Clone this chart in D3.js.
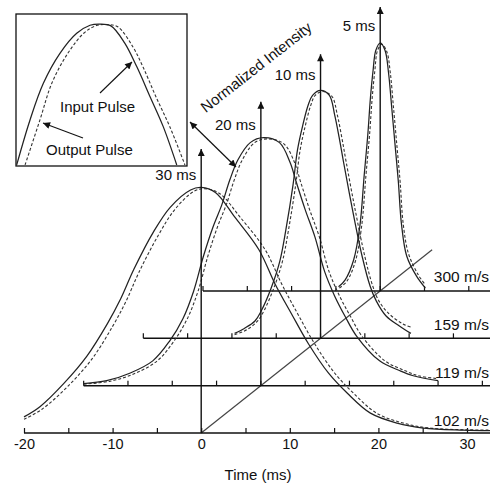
<!DOCTYPE html>
<html>
<head>
<meta charset="utf-8">
<script src="https://cdn.jsdelivr.net/npm/d3@7"></script>
<style>
body{margin:0;overflow:hidden;background:#fff}
text{font-family:"Liberation Sans",Arial,sans-serif;fill:#111}
</style>
</head>
<body>
<div class="canvas"></div>
<script>
// layers, front to back
const velocities=['102 m/s','119 m/s','159 m/s','300 m/s'];
const widths=['30 ms','20 ms','10 ms','5 ms'];
const timeTicks=[-20,-15,-10,-5,0,5,10,15,20,25,30];

// [time ms, normalized intensity]
const pulse30In=[[-20,0.065],[-18.2,0.106],[-15.5,0.2],[-12.9,0.31],[-10.6,0.44],[-9.1,0.54],[-7.6,0.66],[-5.4,0.81],[-3.5,0.91],[-1.2,0.98],[0,0.99],[1.6,0.97],[3.8,0.87],[6.5,0.74],[8.35,0.6],[10.2,0.48],[12.1,0.36],[14.4,0.24],[16.5,0.16],[19.1,0.08],[22.1,0.04],[25.1,0.02],[29.6,0.012],[32.6,0.01]];
const pulse30Out=[[-20,0.055],[-18,0.095],[-15,0.19],[-12.3,0.3],[-10,0.43],[-8.5,0.53],[-7,0.65],[-4.8,0.8],[-3,0.9],[-0.8,0.975],[0.4,0.985],[2.1,0.965],[4.4,0.87],[7.2,0.74],[9.1,0.6],[10.9,0.48],[12.8,0.36],[15.1,0.24],[17.2,0.16],[19.8,0.08],[22.8,0.04],[25.8,0.02],[30,0.013],[32.6,0.012]];
const pulse20In=[[-20,0.008],[-17.4,0.02],[-14.8,0.05],[-12.2,0.1],[-10.3,0.18],[-8.8,0.27],[-7.6,0.38],[-6.5,0.52],[-5.4,0.64],[-4.4,0.73],[-3.5,0.83],[-2.6,0.91],[-1.2,0.98],[0.3,1],[2.1,0.98],[3.3,0.9],[4,0.82],[5,0.71],[6.1,0.6],[7.2,0.46],[8.35,0.36],[9.5,0.28],[10.8,0.2],[13.4,0.1],[15.7,0.06],[17.2,0.04],[20,0.02]];
const pulse20Out=[[-20,0.006],[-17,0.018],[-14.3,0.048],[-11.7,0.1],[-9.8,0.18],[-8.3,0.27],[-7.1,0.38],[-6,0.52],[-4.9,0.64],[-3.9,0.73],[-3,0.83],[-2.1,0.91],[-0.7,0.98],[0.8,0.995],[2.6,0.975],[3.8,0.9],[4.5,0.82],[5.5,0.71],[6.6,0.6],[7.7,0.46],[8.9,0.36],[10.1,0.28],[11.4,0.2],[14,0.1],[16.3,0.06],[17.8,0.04],[20,0.028]];
const pulse10In=[[-9.7,0.02],[-8.6,0.04],[-7.4,0.07],[-6.7,0.11],[-5.6,0.2],[-4.6,0.31],[-3.9,0.44],[-3.1,0.62],[-2.6,0.76],[-2,0.86],[-1.4,0.94],[-0.9,0.98],[0,1],[1,0.98],[1.6,0.9],[2.1,0.81],[2.6,0.71],[3.6,0.52],[4.7,0.33],[5.6,0.21],[6.3,0.15],[7.4,0.09],[8.9,0.05],[10.2,0.02]];
const pulse10Out=[[-9.7,0.015],[-8.3,0.035],[-7.1,0.07],[-6.4,0.11],[-5.3,0.2],[-4.3,0.31],[-3.6,0.44],[-2.8,0.62],[-2.3,0.76],[-1.7,0.86],[-1.1,0.94],[-0.6,0.98],[0.3,0.995],[1.3,0.975],[1.9,0.9],[2.4,0.81],[2.9,0.71],[3.9,0.52],[5,0.33],[5.9,0.21],[6.6,0.15],[7.7,0.1],[9.2,0.06],[10.2,0.045]];
const pulse5In=[[-4.7,0.017],[-3.95,0.045],[-3,0.125],[-2.3,0.26],[-1.8,0.47],[-1.4,0.63],[-1.1,0.78],[-0.8,0.89],[-0.5,0.97],[0,1],[0.55,0.97],[0.94,0.88],[1.3,0.74],[1.7,0.58],[2.05,0.44],[2.4,0.27],[3,0.14],[4.1,0.06],[5.1,0.012]];
const pulse5Out=[[-4.6,0.012],[-3.75,0.04],[-2.8,0.12],[-2.1,0.26],[-1.6,0.47],[-1.2,0.63],[-0.9,0.78],[-0.6,0.89],[-0.3,0.97],[0.2,0.995],[0.75,0.965],[1.14,0.88],[1.5,0.74],[1.9,0.58],[2.25,0.44],[2.6,0.27],[3.2,0.15],[4.3,0.065],[5.1,0.025]];

// inset: zoom on the peak, both axes in percent of the box
const insetIn=[[0.4,0.7],[8.2,30.3],[16,54.4],[25.7,74.1],[35.5,87.3],[43.3,92.6],[49,93.4],[55.5,92.2],[63.5,81],[70.6,65.4],[78.4,45.6],[86.1,25.9],[94,0.7]];
const insetOut=[[5.3,0.7],[14,30.3],[21,54.6],[30.4,74.3],[39.8,87.5],[47,92.4],[53.3,93],[59.5,91.6],[68.4,78.3],[74.3,65.1],[81.9,45.4],[90,25.7],[98.8,0.7]];

const inputs=[pulse30In,pulse20In,pulse10In,pulse5In];
const outputs=[pulse30Out,pulse20Out,pulse10Out,pulse5Out];

const svg=d3.select('.canvas').append('svg')
    .attr('width',490)
    .attr('height',486);

const defs=svg.append('defs');
defs.append('marker')
    .attr('id','head')
    .attr('viewBox','0 0 10 10')
    .attr('refX',10).attr('refY',5)
    .attr('markerUnits','userSpaceOnUse')
    .attr('markerWidth',10).attr('markerHeight',7)
    .attr('orient','auto-start-reverse')
  .append('path')
    .attr('d','M0,0L10,5L0,10Z')
    .attr('fill','#111');

// time, intensity, and depth (one step per velocity)
const x=d3.scaleLinear().domain([-20,30]).range([24,467]);
const h=d3.scaleLinear().domain([0,1]).range([0,248]);
const dx=d3.scaleLinear().domain([0,3]).range([0,179]);
const base=d3.scaleLinear().domain([0,3]).range([433,291]);

const px=(t,k)=>x(t)+dx(k);
const py=(v,k)=>base(k)-h(v);

// diagonal through the origins
svg.append('line')
    .attr('x1',px(0,0)).attr('y1',py(0,0))
    .attr('x2',px(0,3.87)).attr('y2',py(0,3.87))
    .attr('stroke','#444').attr('stroke-width',1.2);

// time baselines of the rear layers
const tickT=d3.range(-20,45,5);
[1,2,3].forEach(k=>{
  svg.append('line')
      .attr('x1',px(-20,k)).attr('x2',px(40,k))
      .attr('y1',base(k)).attr('y2',base(k))
      .attr('stroke','#111').attr('stroke-width',1.5);
  svg.selectAll(null).data(tickT.filter(t=>px(t,k)<=490)).enter().append('line')
      .attr('x1',t=>px(t,k)).attr('x2',t=>px(t,k))
      .attr('y1',base(k)).attr('y2',base(k)-5)
      .attr('stroke','#111').attr('stroke-width',1.2);
});

// front time axis
svg.append('line')
    .attr('x1',x(-20)).attr('x2',490)
    .attr('y1',base(0)).attr('y2',base(0))
    .attr('stroke','#111').attr('stroke-width',1.5);
const axis=svg.append('g')
    .attr('transform','translate(0,'+base(0)+')')
    .call(d3.axisBottom(x).tickValues(timeTicks)
        .tickSizeInner(-5).tickSizeOuter(0).tickPadding(6)
        .tickFormat(d=>d%10===0?String(d):''));
axis.select('.domain').remove();
axis.selectAll('.tick line').attr('stroke','#111').attr('stroke-width',1.2);
axis.selectAll('.tick text')
    .style('font-family','"Liberation Sans",Arial,sans-serif')
    .style('font-size','14.5px').attr('fill','#111');

svg.append('text')
    .attr('x',258).attr('y',480)
    .attr('text-anchor','middle')
    .style('font-size','15px')
    .text('Time (ms)');

// pulses
inputs.forEach((data,k)=>{
  const line=d3.line().x(d=>px(d[0],k)).y(d=>py(d[1],k)).curve(d3.curveCatmullRom);
  svg.append('path').attr('d',line(outputs[k]))
      .attr('fill','none').attr('stroke','#333').attr('stroke-width',1.1)
      .attr('stroke-dasharray','3,2');
  svg.append('path').attr('d',line(data))
      .attr('fill','none').attr('stroke','#222').attr('stroke-width',1.25);
});

// intensity arrows and labels
widths.forEach((w,k)=>{
  svg.append('line')
      .attr('x1',px(0,k)).attr('x2',px(0,k))
      .attr('y1',base(k)).attr('y2',py(1.145,k))
      .attr('stroke','#111').attr('stroke-width',1.4)
      .attr('marker-end','url(#head)');
  svg.append('text')
      .attr('x',px(0,k)-5).attr('y',py(1.02+0.01*k,k))
      .attr('text-anchor','end')
      .style('font-size','15px')
      .text(w);
});

velocities.forEach((v,k)=>{
  svg.append('text')
      .attr('x',489).attr('y',base(k)-7-k*0.6)
      .attr('text-anchor','end')
      .style('font-size','15.5px')
      .text(v);
});

// axis title along the depth direction
svg.append('text')
    .attr('transform','translate(256,67) rotate(-38)')
    .attr('text-anchor','middle')
    .attr('dominant-baseline','central')
    .style('font-size','15px')
    .text('Normalized Intensity');
svg.append('line')
    .attr('x1',190).attr('y1',122).attr('x2',236).attr('y2',167)
    .attr('stroke','#111').attr('stroke-width',1.2)
    .attr('marker-start','url(#head)').attr('marker-end','url(#head)');

// inset
const ix=d3.scaleLinear().domain([0,100]).range([16,187]);
const iy=d3.scaleLinear().domain([0,100]).range([166,14]);
defs.append('clipPath').attr('id','clip')
  .append('rect').attr('x',ix(0)).attr('y',iy(100)).attr('width',ix(100)-ix(0)).attr('height',iy(0)-iy(100));
svg.append('rect')
    .attr('x',ix(0)).attr('y',iy(100))
    .attr('width',ix(100)-ix(0)).attr('height',iy(0)-iy(100))
    .attr('fill','#fff').attr('stroke','#111').attr('stroke-width',1.3);
const iline=d3.line().x(d=>ix(d[0])).y(d=>iy(d[1])).curve(d3.curveCatmullRom);
const ig=svg.append('g').attr('clip-path','url(#clip)');
ig.append('path').attr('d',iline(insetOut))
    .attr('fill','none').attr('stroke','#333').attr('stroke-width',1.1)
    .attr('stroke-dasharray','3,2');
ig.append('path').attr('d',iline(insetIn))
    .attr('fill','none').attr('stroke','#222').attr('stroke-width',1.25);

svg.append('text').attr('x',60).attr('y',112).style('font-size','15px').text('Input Pulse');
svg.append('text').attr('x',46).attr('y',155).style('font-size','15px').text('Output Pulse');
svg.append('line').attr('x1',100).attr('y1',93).attr('x2',132).attr('y2',62)
    .attr('stroke','#111').attr('stroke-width',1.1).attr('marker-end','url(#head)');
svg.append('line').attr('x1',83).attr('y1',138).attr('x2',43).attr('y2',123)
    .attr('stroke','#111').attr('stroke-width',1.1).attr('marker-end','url(#head)');
</script>
</body>
</html>
